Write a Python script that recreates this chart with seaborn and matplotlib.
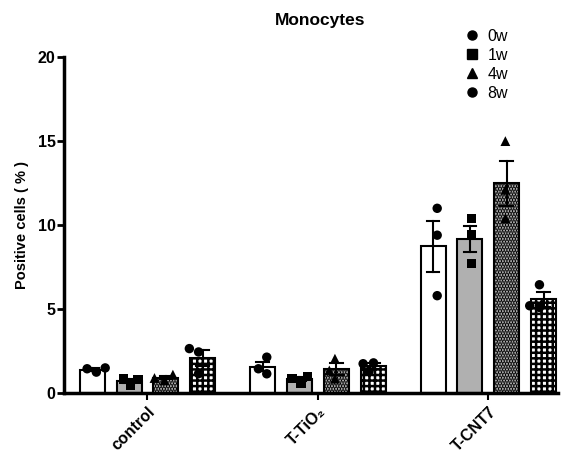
import numpy as np
import pandas as pd
import seaborn as sns
import matplotlib.pyplot as plt
from matplotlib.lines import Line2D

# ---- data ----
groups = ["control", "T-TiO\u2082", "T-CNT7"]
weeks = ["0w", "1w", "4w", "8w"]
markers = ["o", "s", "^", "o"]

control = [[1.45, 1.25, 1.50], [0.85, 0.80, 0.45], [1.10, 0.90, 0.76], [2.65, 2.45, 1.16]]
t_tio2 = [[2.14, 1.45, 1.15], [1.00, 0.86, 0.60], [2.05, 1.35, 0.86], [1.80, 1.75, 1.30]]
t_cnt7 = [[11.0, 9.4, 5.8], [10.4, 9.4, 7.72], [15.0, 12.1, 10.4], [6.45, 5.20, 5.10]]

rows = []
for g, vals in zip(groups, [control, t_tio2, t_cnt7]):
    for w, pts in zip(weeks, vals):
        for v in pts:
            rows.append({"group": g, "week": w, "value": v})
df = pd.DataFrame(rows)

# ---- style ----
plt.rcParams["font.family"] = ["Liberation Sans", "DejaVu Sans"]
plt.rcParams["hatch.linewidth"] = 1.8

fig = plt.figure(figsize=(5.61, 4.68), dpi=100)
ax = fig.add_axes([0.114, 0.160, 0.881, 0.718])

fills = {"0w": "#ffffff", "1w": "#b0b0b0", "4w": "#d2d2d2", "8w": "#ffffff"}
sns.barplot(data=df, x="group", y="value", hue="week", order=groups, hue_order=weeks,
            errorbar="se", width=0.865, gap=0.32, capsize=0.3,
            err_kws={"color": "black", "linewidth": 1.5, "zorder": 3},
            edgecolor="black", linewidth=1.5, palette=fills, legend=False, ax=ax,
            saturation=1)

bar_centers = []
for i, p in enumerate(ax.patches):
    w = weeks[i // len(groups)]
    p.set_zorder(2)
    bar_centers.append(p.get_x() + p.get_width() / 2)
    if w == "4w":
        p.set_hatch("......")
        try:
            p.set_hatchcolor("#bebebe")
        except Exception:
            pass
    elif w == "8w":
        p.set_hatch("+++")
        try:
            p.set_hatchcolor("#202020")
        except Exception:
            pass
bar_centers = np.array(bar_centers)

for w, m in zip(weeks, markers):
    n0 = len(ax.collections)
    sns.swarmplot(data=df[df["week"] == w], x="group", y="value", hue="week",
                  order=groups, hue_order=weeks, dodge=True, marker=m, size=3.5,
                  palette={k: "black" for k in weeks}, legend=False, ax=ax, zorder=4)
    for c in ax.collections[n0:]:
        c.set_sizes([46 if m != "^" else 50])
        off = np.asarray(c.get_offsets(), dtype=float)
        if len(off):
            ctr = bar_centers[np.abs(off[:, :1] - bar_centers[None, :]).argmin(axis=1)]
            off[:, 0] = ctr + (off[:, 0] - ctr) * 0.8
            c.set_offsets(off)

ax.set_xlim(-0.49, 2.41)
ax.set_ylim(0, 20)
ax.set_yticks([0, 5, 10, 15, 20])
ax.set_yticklabels(["0", "5", "10", "15", "20"], fontweight="bold", fontsize=11.5)
ax.set_xticks(range(len(groups)))
ax.set_xticklabels(groups, rotation=45, ha="right", rotation_mode="anchor",
                   fontweight="bold", fontsize=11.5)
ax.set_xlabel("")
ax.set_ylabel("Positive cells ( % )", fontweight="bold", fontsize=10.5, labelpad=6)

for s in ["top", "right"]:
    ax.spines[s].set_visible(False)
for s in ["left", "bottom"]:
    ax.spines[s].set_linewidth(2.5)
ax.tick_params(axis="y", length=5, width=2, direction="out", pad=1)
ax.tick_params(axis="x", length=5, width=1.5, direction="out", pad=3)

fig.text(0.570, 0.957, "Monocytes", fontweight="bold", fontsize=12.5, ha="center", va="center")

handles = [Line2D([], [], linestyle="none", marker=m, color="black", markersize=6.5)
           for m in markers]
fig.legend(handles, weeks, loc="upper left", bbox_to_anchor=(0.812, 0.955),
           frameon=False, fontsize=11.5, labelspacing=0.25, handletextpad=0.5,
           borderpad=0, handlelength=1.0)

fig.savefig("out.png", dpi=100)
